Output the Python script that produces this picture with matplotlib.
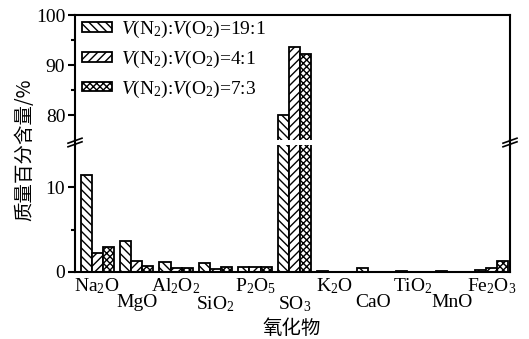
import matplotlib
matplotlib.use('Agg')
import matplotlib.pyplot as plt
from matplotlib.lines import Line2D
import numpy as np

categories = [r'Na$_2$O', 'MgO', r'Al$_2$O$_2$', r'SiO$_2$', r'P$_2$O$_5$', r'SO$_3$',
              r'K$_2$O', 'CaO', r'TiO$_2$', 'MnO', r'Fe$_2$O$_3$']
ratio_19_1 = [11.5, 3.7, 1.2, 1.1, 0.6, 80.0, 0.15, 0.5, 0.1, 0.15, 0.2]
ratio_4_1 = [2.3, 1.3, 0.5, 0.3, 0.6, 93.7, 0.05, 0.05, 0.0, 0.05, 0.5]
ratio_7_3 = [3.0, 0.7, 0.5, 0.6, 0.6, 92.3, 0.0, 0.05, 0.0, 0.0, 1.3]
series_labels = [r'$V$(N$_2$):$V$(O$_2$)=19:1', r'$V$(N$_2$):$V$(O$_2$)=4:1',
                 r'$V$(N$_2$):$V$(O$_2$)=7:3']
hatches = ['\\\\\\\\', '////', 'xxxxx']

plt.rcParams['font.family'] = ['Liberation Serif', 'Noto Sans CJK SC']
plt.rcParams['mathtext.fontset'] = 'custom'
plt.rcParams['mathtext.rm'] = 'Liberation Serif'
plt.rcParams['mathtext.it'] = 'Liberation Serif:italic'
plt.rcParams['mathtext.bf'] = 'Liberation Serif:bold'
plt.rcParams['hatch.linewidth'] = 1.0
plt.rcParams['font.size'] = 14

W, H = 529, 339
fig = plt.figure(figsize=(W / 100, H / 100), dpi=100)
L, R = 75, 510
def fr(x0, y_top, y_bot):
    return [x0 / W, 1 - y_bot / H, (R - x0) / W, (y_bot - y_top) / H]

ax_top = fig.add_axes(fr(L, 15, 140))
ax_bot = fig.add_axes(fr(L, 145, 272))

x = np.arange(len(categories))
w = 0.28
series = [ratio_19_1, ratio_4_1, ratio_7_3]
for ax in (ax_top, ax_bot):
    for k, (vals, h) in enumerate(zip(series, hatches)):
        ax.bar(x + (k - 1) * w, vals, width=w, color='white', edgecolor='black',
               linewidth=1.3, hatch=h, label=series_labels[k])
    ax.set_xlim(-0.56, 10.46)
    for s in ax.spines.values():
        s.set_linewidth(1.5)

ax_top.set_ylim(75, 100)
ax_top.set_yticks([80, 90, 100])
ax_top.set_yticks([85, 95], minor=True)
ax_top.spines['bottom'].set_visible(False)
ax_top.tick_params(axis='x', which='both', bottom=False, labelbottom=False)

ax_bot.set_ylim(0, 15)
ax_bot.set_yticks([0, 10])
ax_bot.set_yticks([5], minor=True)
ax_bot.spines['top'].set_visible(False)
ax_bot.set_xticks(x)
ax_bot.set_xticklabels(categories)
ax_bot.tick_params(axis='x', length=0)
for i, t in enumerate(ax_bot.xaxis.get_major_ticks()):
    t.set_pad(3 if i % 2 == 0 else 16)

for ax in (ax_top, ax_bot):
    ax.tick_params(axis='y', which='major', direction='out', length=5, width=1.5, labelsize=14, pad=2)
    ax.tick_params(axis='y', which='minor', direction='out', length=3, width=1.5)

# continuous spines across the gap + break marks
for xp in (L, R):
    fig.add_artist(Line2D([xp / W, xp / W], [1 - 140 / H, 1 - 145 / H], color='black', lw=1.5))
    for dy in (-1.8, 1.8):
        yc = 142.5 + dy
        fig.add_artist(Line2D([(xp - 7) / W, (xp + 7) / W], [1 - (yc + 2.5) / H, 1 - (yc - 2.5) / H],
                              color='black', lw=1.2))

leg = ax_top.legend(loc='upper left', bbox_to_anchor=(82 / W, 1 - 19 / H), bbox_transform=fig.transFigure,
                    frameon=False, fontsize=14, handlelength=1.55, handleheight=0.35,
                    handletextpad=0.45, labelspacing=0.45, borderpad=0, borderaxespad=0)

fig.text(292 / W, 1 - 329 / H, '氧化物', ha='center', va='center', fontsize=14,
         family=['Noto Sans CJK SC'])
fig.text(25 / W, 1 - 150 / H, '质量百分含量/%', rotation=90, ha='center', va='center',
         fontsize=14, family=['Noto Sans CJK SC'])

fig.savefig('out.png', dpi=100)
